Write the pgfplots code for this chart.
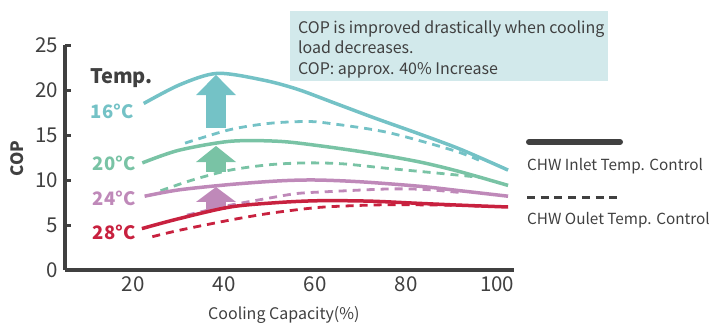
\documentclass[border=0pt]{standalone}
\usepackage{fontspec}
\setmainfont{Noto Sans CJK JP}
\usepackage{pgfplots}
\pgfplotsset{compat=1.18}
\definecolor{cteal}{HTML}{74C2C6}
\definecolor{cgreen}{HTML}{79C3A5}
\definecolor{cpurple}{HTML}{BF89B9}
\definecolor{cred}{HTML}{C8213F}
\definecolor{cdark}{HTML}{404040}
\definecolor{cbox}{HTML}{D2E9EB}
\newcommand{\fs}[1]{\fontsize{#1}{#1}\selectfont}
\begin{document}
\begin{tikzpicture}
\path[use as bounding box] (-65pt,-52pt) rectangle (648pt,270pt);
\begin{axis}[
  at={(0pt,0pt)}, anchor=south west,
  scale only axis, width=449pt, height=225pt,
  xmin=5, xmax=103.7, ymin=0, ymax=25,
  axis x line*=bottom, axis y line*=left,
  axis line style={line width=4.3pt, color=cdark, -},
  xtick={20,40,60,80,100}, ytick={0,5,10,15,20,25},
  xtick style={draw=none},
  ytick style={line width=3pt, color=cdark},
  tick align=inside, major tick length=6pt,
  /pgf/number format/assume math mode=true,
  xticklabel style={font=\fs{20.5}, text=cdark, inner sep=0pt, yshift=-6.5pt},
  yticklabel style={font=\fs{20.5}, text=cdark, inner sep=0pt, xshift=-7pt},
  clip=false,
]
% arrows
\fill[cteal] (36.0,15.78) -- (36.0,19.44) -- (33.8,19.44) -- (38.19,21.67) -- (42.59,19.44) -- (40.39,19.44) -- (40.39,15.78) -- cycle;
\fill[cgreen] (36.0,10.89) -- (36.0,12.0) -- (33.8,12.0) -- (38.19,13.78) -- (42.59,12.0) -- (40.39,12.0) -- (40.39,10.89) -- cycle;
\fill[cpurple] (36.0,6.67) -- (36.0,7.56) -- (33.8,7.56) -- (38.19,9.22) -- (42.59,7.56) -- (40.39,7.56) -- (40.39,6.67) -- cycle;
% 16 C
\addplot[cteal, line width=3.5pt, smooth] coordinates {(22.3,18.5) (30.3,20.6) (38.5,21.85) (48.6,21.1) (56,20.1) (64,18.6) (73,16.9) (83,15.1) (92,13.4) (102.4,11.1)};
\addplot[cteal, line width=2.8pt, smooth, dash pattern=on 8pt off 6pt] coordinates {(31.4,14.1) (41.3,15.6) (50,16.3) (58,16.5) (63,16.3) (75.8,15.3) (90.3,13.3) (96,12.2)};
% 20 C
\addplot[cgreen, line width=3.5pt, smooth] coordinates {(22,11.9) (30,13.3) (41.3,14.3) (52,14.3) (61,13.8) (72,13.0) (83,12.0) (92,10.9) (102.4,9.4)};
\addplot[cgreen, line width=2.8pt, smooth, dash pattern=on 8pt off 6pt] coordinates {(26,8.8) (33,10.0) (41.3,11.1) (50,11.7) (58,11.9) (66,11.8) (75.8,11.3) (90.3,10.6) (96,10.3)};
% 24 C
\addplot[cpurple, line width=3.5pt, smooth] coordinates {(22.5,8.2) (30,8.9) (41.3,9.5) (52,9.9) (60,10.0) (70,9.8) (83,9.3) (92,8.8) (102.4,8.2)};
\addplot[cpurple, line width=2.8pt, smooth, dash pattern=on 8pt off 6pt] coordinates {(31.8,6.1) (41.3,7.2) (50,8.0) (56,8.5) (62.6,8.7) (75.8,9.0) (84,8.95) (92,8.6)};
% 28 C
\addplot[cred, line width=3.5pt, smooth] coordinates {(21.9,4.6) (30,5.7) (41.3,7.0) (52,7.5) (61,7.7) (72,7.65) (83,7.4) (92,7.2) (102.4,7.0)};
\addplot[cred, line width=2.8pt, smooth, dash pattern=on 8pt off 6pt] coordinates {(24.2,3.7) (30,4.4) (41.3,5.55) (50,6.3) (59.6,6.9) (66,7.1) (75.8,7.25) (90.3,7.2) (96,7.1)};
\end{axis}
% labels on the left
\node[anchor=base west, inner sep=0pt, font=\fs{20}\bfseries, text=cdark] at (25pt,186.7pt) {Temp.};
\node[anchor=base west, inner sep=0pt, font=\fs{18.5}\bfseries, text=cteal] at (25.7pt,151.7pt) {16°C};
\node[anchor=base west, inner sep=0pt, font=\fs{18.5}\bfseries, text=cgreen] at (27.7pt,99.3pt) {20°C};
\node[anchor=base west, inner sep=0pt, font=\fs{18.5}\bfseries, text=cpurple] at (27.7pt,65pt) {24°C};
\node[anchor=base west, inner sep=0pt, font=\fs{18.5}\bfseries, text=cred] at (27.7pt,30.7pt) {28°C};
% axis labels
\node[rotate=90, inner sep=0pt, font=\fs{17}\bfseries, text=cdark] at (-48pt,111.3pt) {COP};
\node[anchor=base west, inner sep=0pt, font=\fs{16}, text=cdark] at (143pt,-49.5pt) {Cooling Capacity(\%)};
% text box
\fill[cbox] (225pt,189pt) rectangle (543pt,259pt);
\node[anchor=base west, inner sep=0pt, font=\fs{16}, text=cdark] at (233pt,236.7pt) {COP is improved drastically when cooling};
\node[anchor=base west, inner sep=0pt, font=\fs{16}, text=cdark] at (233pt,216pt) {load decreases.};
\node[anchor=base west, inner sep=0pt, font=\fs{16}, text=cdark] at (233pt,196pt) {COP: approx. 40\% Increase};
% legend
\draw[cdark, line width=6pt, line cap=round] (464pt,128pt) -- (555pt,128pt);
\node[anchor=base west, inner sep=0pt, font=\fs{15.3}, text=cdark] at (462pt,100pt) {CHW Inlet Temp. Control};
\draw[cdark, line width=3pt, dash pattern=on 8pt off 5.7pt] (462pt,72.7pt) -- (552pt,72.7pt);
\node[anchor=base west, inner sep=0pt, font=\fs{15.3}, text=cdark] at (462pt,46pt) {CHW Oulet Temp. Control};
\end{tikzpicture}
\end{document}
